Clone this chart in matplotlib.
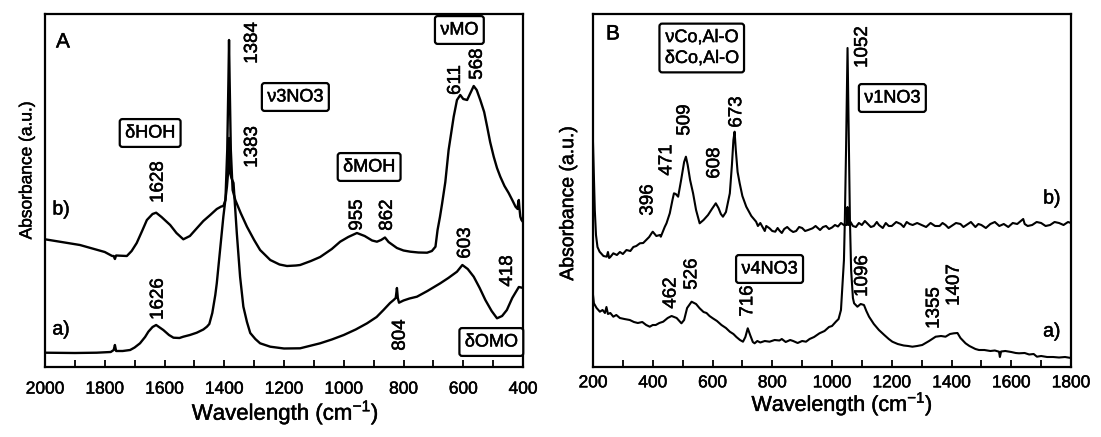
import matplotlib
matplotlib.use("Agg")
import matplotlib.pyplot as plt
import matplotlib.patheffects as pe
from matplotlib.text import Text
from matplotlib.ticker import MultipleLocator

plt.rcParams['font.family'] = ['Liberation Sans', 'DejaVu Sans']
plt.rcParams['mathtext.fontset'] = 'custom'
plt.rcParams['mathtext.rm'] = 'Liberation Sans'

# ---- panel A : FTIR, absorbance in a.u.
ir_b_wn = [2000, 1883, 1800, 1775, 1770, 1766, 1762, 1726, 1710, 1693, 1675, 1659, 1640, 1628,
           1610, 1581, 1560, 1537, 1515, 1492, 1470, 1447, 1425, 1410, 1403, 1396, 1390, 1386,
           1384, 1382, 1378, 1372, 1363, 1345, 1324, 1300, 1280, 1246, 1215, 1190, 1160, 1146,
           1110, 1079, 1040, 1012, 985, 956, 930, 905, 889, 875, 862, 850, 822, 800, 777, 750,
           721, 705, 693, 686, 678, 671, 660, 649, 632, 621, 610, 600, 587, 576, 565, 555, 543,
           530, 520, 510, 498, 487, 476, 462, 448, 436, 425, 418, 416, 414, 412, 409, 405, 400]
ir_b_abs = [127.7, 122, 115, 111, 111, 108, 111.5, 111, 116, 124, 136, 147, 153, 154.3,
            150, 142, 134, 127.7, 131, 138.7, 146, 152, 158, 160.5, 161, 167, 217, 287,
            327, 287, 217, 177, 167, 154, 140.3, 127, 117, 107, 102.5, 101, 101.5, 102,
            106, 110, 118, 125.3, 130, 134, 131, 126.5, 125.3, 127, 129.5, 125, 119, 116.5, 115.3, 114.5,
            114.3, 116, 120.3, 137, 150, 163, 185, 217, 250.3, 267, 272, 268, 267, 274, 281, 277, 267,
            255, 240.3, 225, 210.3, 199, 190.3, 181, 174, 167, 160.3, 158, 165, 167, 159, 150.3, 147, 145]

ir_a_wn = [2000, 1900, 1827, 1780, 1770, 1766, 1762, 1740, 1715, 1700, 1682, 1665, 1654, 1640,
           1628, 1604, 1585, 1570, 1550, 1537, 1515, 1492, 1470, 1458, 1450, 1440, 1430, 1425,
           1414, 1403, 1391, 1387, 1385, 1384, 1383, 1381, 1376, 1369, 1358, 1347, 1336, 1324,
           1313, 1296, 1280, 1246, 1200, 1146, 1079, 1040, 1000, 960, 922, 890, 867, 845, 833,
           826, 822, 819, 815, 800, 780, 755, 720, 677, 650, 621, 603, 585, 565, 545, 526, 505,
           487, 470, 454, 436, 420, 414, 409, 400]
ir_a_abs = [14.3, 14, 14.3, 15, 17, 22, 16, 16, 17, 19.5, 23.7, 30, 35.3, 40,
            42, 37, 32, 29.3, 29, 30.3, 32, 34.3, 37.5, 40.3, 43, 54, 72, 83.7,
            117, 150.3, 180.3, 195, 217, 229, 217, 195, 189, 184, 134, 90.3, 60.3, 45,
            34, 28, 23.7, 20.3, 18.5, 18.7, 23.7, 27.5, 32, 37.5, 43.7, 50, 57, 64, 67,
            69, 79, 69, 64.3, 66.5, 68.5, 70.3, 76, 83.7, 89, 95.3, 102, 98, 90.3, 79, 67, 56,
            48.7, 51, 57, 69, 77, 80, 79.7, 79]

# ---- panel B : Raman
ra_b_wn = [200, 203, 206, 210, 215, 222, 235, 246, 250, 254, 258, 268, 280, 290, 300, 312, 325,
           335, 345, 357, 368, 378, 388, 396, 400, 412, 424, 427, 440, 446, 457, 466, 471, 477,
           485, 495, 505, 511, 517, 525, 535, 545, 557, 570, 585, 598, 611, 620, 628, 635, 645,
           652, 658, 665, 670, 674, 678, 684, 691, 700, 713, 730, 746, 752, 760, 770, 775, 780,
           791, 800, 810, 818, 824, 832, 840, 850, 860, 870, 880, 890, 900, 910, 920, 935, 945,
           960, 970, 980, 990, 1000, 1010, 1020, 1030, 1040, 1049, 1052, 1055, 1062, 1070, 1080,
           1090, 1100, 1110, 1120, 1130, 1140, 1150, 1157, 1170, 1180, 1190, 1200, 1215, 1230,
           1240, 1250, 1260, 1270, 1285, 1300, 1315, 1330, 1345, 1360, 1370, 1380, 1390, 1400,
           1415, 1430, 1440, 1450, 1465, 1480, 1490, 1500, 1515, 1530, 1545, 1560, 1575, 1590,
           1605, 1620, 1640, 1645, 1655, 1670, 1685, 1700, 1715, 1730, 1745, 1760, 1775, 1790, 1800]
ra_b_int = [224, 192, 157, 132, 120, 115.3, 111, 110.3, 115, 109, 110, 113.7, 112, 115, 113, 117, 116,
            120, 121, 123.7, 124, 127, 130, 133.7, 135.3, 131, 132, 130.3, 140, 143.7, 153.7, 167, 173.7, 173,
            170.3, 187, 205, 210.3, 202, 187, 173.7, 157, 143.7, 147, 152, 158, 163.7, 159, 153, 150.3, 155,
            165, 173.7, 202, 227, 235.3, 217, 195, 183.7, 171, 160.3, 151, 145.3, 141, 144, 138.7, 136, 141,
            138.7, 136, 135.3, 139, 136.5, 134, 138, 140, 137, 135, 136, 140, 139, 136, 137, 138.7, 141,
            137, 140, 141, 138, 139.5, 142, 140.5, 144, 142, 142, 160, 142, 145, 141, 140,
            144, 142, 146, 143, 140, 141, 145, 142, 139, 144, 141, 141, 145, 143,
            140, 145, 143, 142, 144, 142, 140, 144, 141, 141, 144, 142, 139, 141,
            144, 143, 140, 142, 145, 140, 143, 142, 139, 143, 145, 141, 143, 140,
            144, 143, 148, 143, 141, 142, 145, 144, 141, 142, 145, 144, 142, 145, 144]

ra_a_wn = [200, 203, 212, 223, 232, 240, 245, 250, 258, 268, 278, 290, 305, 323, 337, 350, 365,
           378, 390, 400, 410, 422, 435, 450, 463, 480, 496, 505, 515, 530, 545, 557, 570, 580,
           590, 601, 615, 630, 645, 658, 670, 680, 692, 702, 710, 718, 726, 735, 741, 750, 760,
           775, 791, 808, 824, 832, 845, 860, 870, 885, 900, 913, 925, 940, 958, 975, 990, 1000,
           1013, 1022, 1030, 1040, 1043, 1047, 1050, 1052, 1054, 1057, 1060, 1064, 1070, 1074,
           1085, 1096, 1107, 1115, 1124, 1140, 1157, 1175, 1190, 1202, 1220, 1240, 1255, 1269,
           1285, 1302, 1325, 1347, 1365, 1380, 1395, 1408, 1420, 1430, 1447, 1460, 1470, 1480,
           1492, 1510, 1530, 1545, 1559, 1562, 1566, 1580, 1600, 1615, 1626, 1645, 1660, 1675,
           1686, 1700, 1720, 1740, 1760, 1780, 1800]
ra_a_int = [72, 63.7, 59, 55.3, 57, 54, 60, 53, 54, 50.3, 52, 49, 48, 47, 45, 44, 45,
            42, 40.3, 42, 42, 44, 45.3, 49, 51, 49, 43.7, 47, 59, 65.3, 63, 58.7, 55, 54,
            51, 48.7, 46, 42, 39, 35.3, 33, 30, 27, 25.3, 30, 38.7, 32, 25, 23.7, 26, 24.5,
            26, 25.3, 27, 26.5, 28, 25, 27, 26, 24, 26, 25.3, 28, 30, 33.7, 36, 40, 41,
            45.3, 48, 57, 107, 147, 217, 277, 319, 277, 217, 147, 97, 69, 63.7,
            60.3, 63, 62, 56, 50.3, 43, 37, 32, 28, 25.3, 23, 21.5, 21, 20.3,
            21, 22, 26, 30.3, 31, 30.3, 33, 33.7, 34, 29, 23.7, 21, 19.5, 18,
            17, 17, 16, 16.5, 15.3, 10, 15.5, 16, 15, 14, 13.7, 14, 12.5, 13,
            10.3, 11, 10, 10, 9.5, 10, 9]

fig = plt.figure(figsize=(11.01, 4.37), dpi=100)
axA = fig.add_axes([45 / 1101, 70 / 437, 478 / 1101, 353 / 437])
axB = fig.add_axes([593 / 1101, 70 / 437, 478 / 1101, 353 / 437])

axA.plot(ir_b_wn, ir_b_abs, color='black', lw=1.7)
axA.plot(ir_a_wn, ir_a_abs, color='black', lw=1.7)
axB.plot(ra_b_wn, ra_b_int, color='black', lw=1.5)
axB.plot(ra_a_wn, ra_a_int, color='black', lw=1.5)

axA.set_xlim(2000, 400)
axB.set_xlim(200, 1800)
for ax, pad in ((axA, 10.5), (axB, 6)):
    ax.set_ylim(0, 353)
    ax.xaxis.set_major_locator(MultipleLocator(200))
    ax.xaxis.set_minor_locator(MultipleLocator(100))
    ax.tick_params(axis='x', which='both', direction='in', length=5, width=1.3,
                   top=False, labelsize=12.5, pad=pad)
    ax.tick_params(axis='y', left=False, labelleft=False)
    for s in ax.spines.values():
        s.set_linewidth(1.6)

axA.text(-0.038, 0.558, 'Absorbance (a.u.)', transform=axA.transAxes, rotation=90,
         ha='center', va='center', fontsize=12.5)
axB.text(-0.051, 0.465, 'Absorbance (a.u.)', transform=axB.transAxes, rotation=90,
         ha='center', va='center', fontsize=14)
axA.text(0.503, -0.13, 'Wavelength (cm$^{-1}$)', transform=axA.transAxes,
         ha='center', va='center', fontsize=16)
axB.text(0.521, -0.105, 'Wavelength (cm$^{-1}$)', transform=axB.transAxes,
         ha='center', va='center', fontsize=15.5)

box = dict(boxstyle='round,pad=0.3,rounding_size=0.15', fc='white', ec='black', lw=1.6)

# panel A labels
axA.text(1940, 325, 'A', ha='center', va='center', fontsize=15)
axA.text(1946, 157, 'b)', ha='center', va='center', fontsize=14)
axA.text(1946, 37, 'a)', ha='center', va='center', fontsize=14)
for lab, x, y in [('1384', 1306, 324), ('1383', 1306, 220), ('1628', 1621, 185),
                  ('1626', 1621, 68), ('955', 955, 152), ('862', 854, 152),
                  ('611', 626, 287), ('568', 553, 303), ('603', 593, 124),
                  ('418', 452, 96), ('804', 811, 32)]:
    axA.text(x, y, lab, rotation=90, ha='center', va='center', fontsize=13.5)
for lab, x, y in [('ν3NO3', 1162, 270), ('δHOH', 1648, 234), ('δMOH', 915, 200),
                  ('νMO', 613, 337), ('δOMO', 506, 25)]:
    axA.text(x, y, lab, ha='center', va='center', fontsize=13, bbox=box)

# panel B labels
axB.text(267, 333, 'B', ha='center', va='center', fontsize=15)
axB.text(1736, 168, 'b)', ha='center', va='center', fontsize=14)
axB.text(1736, 35, 'a)', ha='center', va='center', fontsize=14)
for lab, x, y in [('1052', 1102, 320), ('673', 681, 255), ('509', 507, 247),
                  ('471', 447, 207), ('608', 607, 204), ('396', 384, 167),
                  ('462', 461, 74), ('526', 531, 93), ('716', 718, 66),
                  ('1096', 1102, 91), ('1355', 1342, 59), ('1407', 1409, 82)]:
    axB.text(x, y, lab, rotation=90, ha='center', va='center', fontsize=13.5)
for lab, x, y in [('νCo,Al-O\nδCo,Al-O', 564, 319), ('ν1NO3', 1202, 269), ('ν4NO3', 791, 98)]:
    axB.text(x, y, lab, ha='center', va='center', fontsize=13, bbox=box, linespacing=1.3)

# the scanned figure has slightly heavy glyphs
for t in fig.findobj(Text):
    t.set_path_effects([pe.withStroke(linewidth=0.35, foreground='black')])

fig.savefig('out.png', dpi=100)
